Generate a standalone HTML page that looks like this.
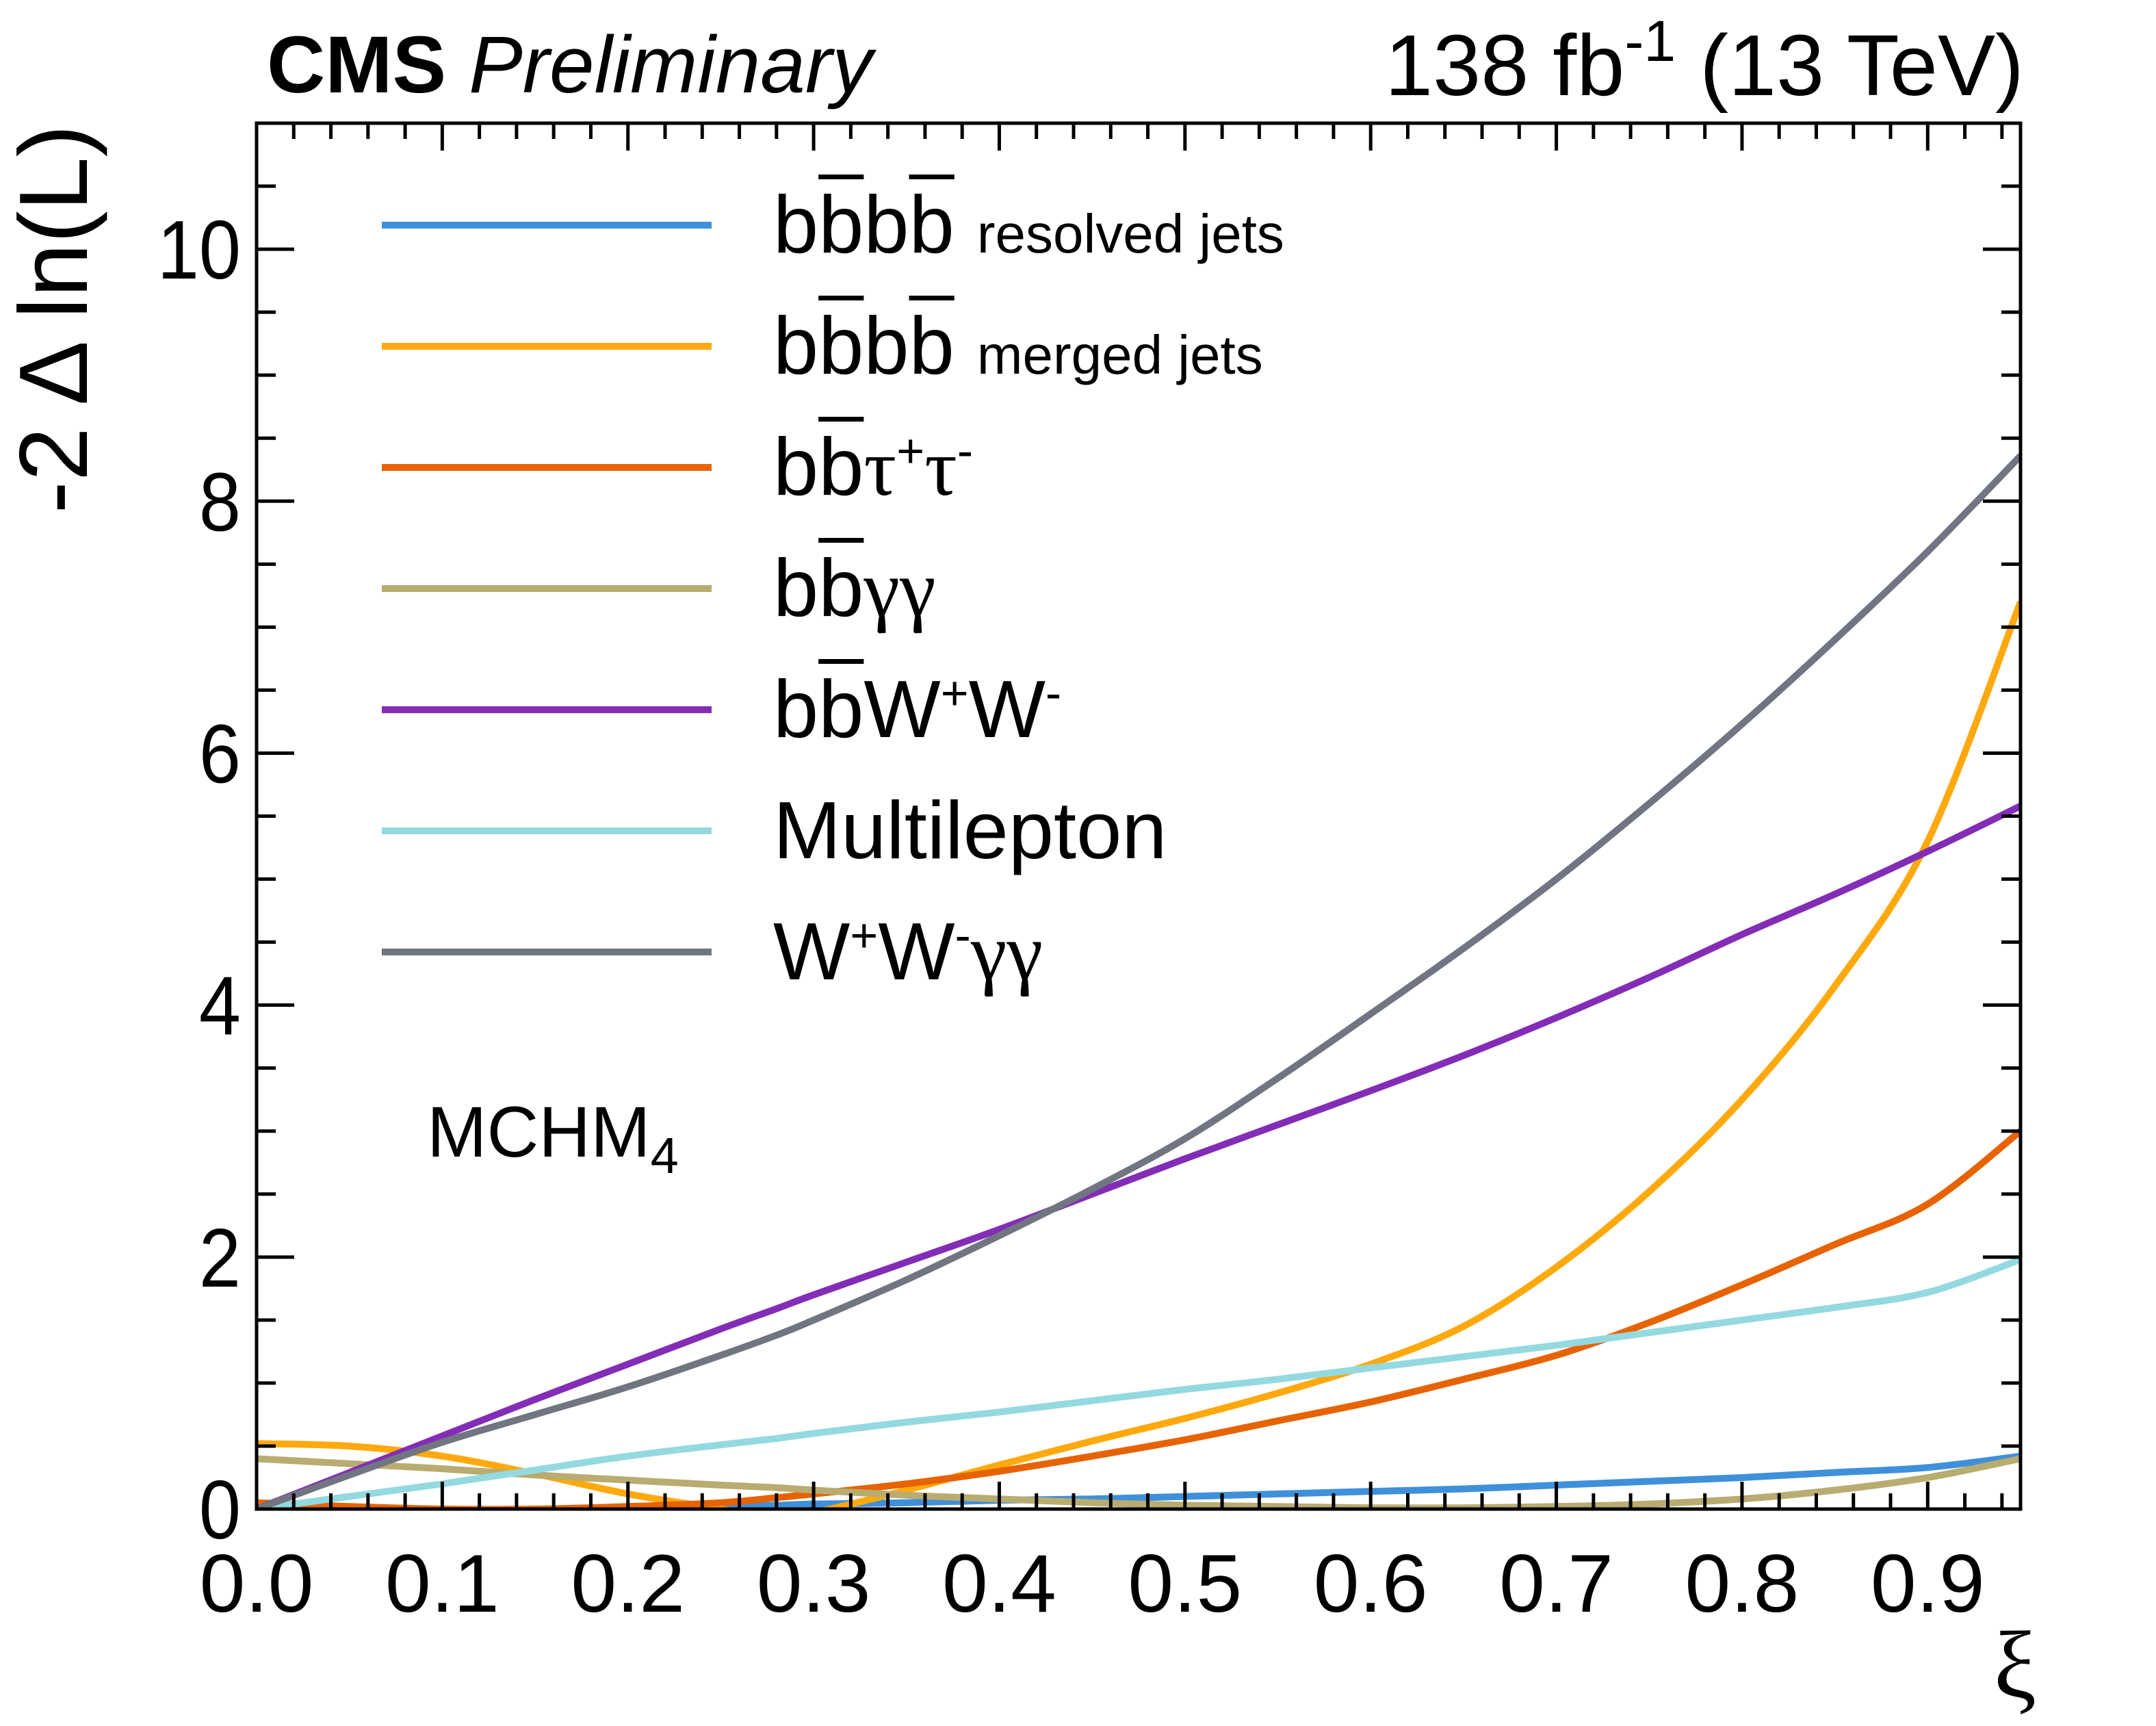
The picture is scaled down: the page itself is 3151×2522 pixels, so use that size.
<!DOCTYPE html>
<html><head><meta charset="utf-8"><style>
html,body{margin:0;padding:0;background:#fff}
body{width:3151px;height:2522px;position:relative;overflow:hidden;font-family:"Liberation Sans",sans-serif}
.lt{position:absolute;font-size:119px;color:#000;white-space:nowrap;line-height:1}
.ob{text-decoration:overline;text-decoration-thickness:7px}
.sm{font-size:80px}
</style></head><body>
<svg id="chart" width="3151" height="2522" style="position:absolute;left:0;top:0" xmlns="http://www.w3.org/2000/svg">
<defs><clipPath id="pc"><rect x="375" y="180" width="2578" height="2025"/></clipPath></defs>
<g id="curves" clip-path="url(#pc)"></g>
<g id="axes"></g>
<text x="390" y="135" font-size="118" font-weight="bold" font-family="Liberation Sans, sans-serif">CMS <tspan font-weight="normal" font-style="italic">Preliminary</tspan></text>
<text x="2958" y="139" font-size="126" text-anchor="end" font-family="Liberation Sans, sans-serif">138 fb<tspan dy="-50" font-size="84">-1</tspan><tspan dy="50"> (13 TeV)</tspan></text>
<text transform="translate(127,182) rotate(-90)" text-anchor="end" font-size="142" font-family="Liberation Sans, sans-serif">-2 Δ ln(L)</text>
<text x="2945" y="2480" text-anchor="middle" font-size="140" font-family="Liberation Serif, serif">ξ</text>
<text x="624" y="1690" font-size="105" font-family="Liberation Sans, sans-serif">MCHM<tspan dy="24" font-size="74">4</tspan></text>
</svg>
<div id="legend"></div>
<script>
const xiVals=[0,0.05,0.1,0.15,0.2,0.25,0.28,0.3,0.35,0.4,0.45,0.5,0.55,0.6,0.65,0.7,0.75,0.8,0.85,0.9,0.95];
const resolved=[-0.02,-0.02,-0.01,-0.01,0.0,0.02,0.03,0.04,0.05,0.07,0.08,0.1,0.12,0.14,0.16,0.19,0.22,0.25,0.29,0.33,0.42];
const merged=[0.52,0.5,0.42,0.28,0.12,0.0,-0.08,-0.03,0.15,0.35,0.54,0.72,0.92,1.15,1.45,1.92,2.52,3.25,4.15,5.3,7.2];
const tautau=[0.05,0.02,0.0,0.0,0.02,0.05,0.09,0.12,0.2,0.3,0.42,0.55,0.7,0.85,1.03,1.22,1.48,1.78,2.1,2.42,3.0];
const gamgam=[0.4,0.36,0.32,0.27,0.23,0.19,0.17,0.15,0.11,0.08,0.05,0.03,0.02,0.01,0.01,0.02,0.04,0.08,0.15,0.25,0.4];
const wwbb=[0.0,0.29,0.58,0.87,1.15,1.43,1.59,1.7,1.96,2.22,2.5,2.78,3.05,3.32,3.6,3.9,4.22,4.56,4.88,5.22,5.58];
const multilep=[0.0,0.1,0.2,0.31,0.42,0.51,0.56,0.6,0.69,0.77,0.86,0.95,1.03,1.12,1.21,1.3,1.4,1.5,1.6,1.72,1.98];
const wwgg=[0.0,0.27,0.53,0.75,0.97,1.22,1.38,1.5,1.82,2.17,2.54,2.94,3.42,3.93,4.45,5.0,5.6,6.23,6.9,7.6,8.36];
const seriesNames=["resolved","merged","tautau","gamgam","wwbb","multilep","wwgg"];
const seriesColors=["#3f90da","#ffa90e","#e76300","#b9ac70","#832db6","#94d9e0","#717581"];
const xTickLabels=["0.0","0.1","0.2","0.3","0.4","0.5","0.6","0.7","0.8","0.9"];
const yTickLabels=["0","2","4","6","8","10"];
const allSeries=[resolved,merged,tautau,gamgam,wwbb,multilep,wwgg];
const X0=375,X1=2953,Y0=2205,Y1=180,XMAX=0.95,YMAX=11;
const sx=v=>X0+(X1-X0)*v/XMAX, sy=v=>Y0-(Y0-Y1)*v/YMAX;
const NS="http://www.w3.org/2000/svg";
const cg=document.getElementById('curves'), ag=document.getElementById('axes');
function mk(t,a,p){const e=document.createElementNS(NS,t);for(const k in a)e.setAttribute(k,a[k]);p.appendChild(e);return e;}
function smoothPath(pts){
  let d='M'+pts[0][0].toFixed(1)+','+pts[0][1].toFixed(1);
  for(let i=0;i<pts.length-1;i++){
    const p0=pts[Math.max(0,i-1)],p1=pts[i],p2=pts[i+1],p3=pts[Math.min(pts.length-1,i+2)];
    const c1=[p1[0]+(p2[0]-p0[0])/6,p1[1]+(p2[1]-p0[1])/6];
    const c2=[p2[0]-(p3[0]-p1[0])/6,p2[1]-(p3[1]-p1[1])/6];
    d+=' C'+c1[0].toFixed(1)+','+c1[1].toFixed(1)+' '+c2[0].toFixed(1)+','+c2[1].toFixed(1)+' '+p2[0].toFixed(1)+','+p2[1].toFixed(1);
  }
  return d;
}
allSeries.forEach((s,i)=>{
  const pts=s.map((v,j)=>[sx(xiVals[j]),sy(v)]);
  const p=mk('path',{d:smoothPath(pts),fill:'none',stroke:seriesColors[i],'stroke-width':10,'stroke-linejoin':'round'},cg);
  
  
});
const fr=mk('rect',{x:X0,y:Y1,width:X1-X0,height:Y0-Y1,fill:'none',stroke:'#000','stroke-width':5},ag);


for(let k=0;k*0.02<=XMAX+1e-9;k++){
  const v=k*0.02, major=(k%5===0), L=major?40:23, x=sx(v);
  mk('line',{x1:x,x2:x,y1:Y0,y2:Y0-L,stroke:'#000','stroke-width':5},ag);
  mk('line',{x1:x,x2:x,y1:Y1,y2:Y1+L,stroke:'#000','stroke-width':5},ag);
}
xTickLabels.forEach((t,i)=>{
  const e=mk('text',{x:sx(i*0.1),y:2355,'text-anchor':'middle','font-size':120,'font-family':'Liberation Sans, sans-serif'},ag);
  e.textContent=t;
  
  
});
for(let k=0;k*0.5<=YMAX+1e-9;k++){
  const v=k*0.5, major=(k%4===0), L=major?55:28, y=sy(v);
  mk('line',{x1:X0,x2:X0+L,y1:y,y2:y,stroke:'#000','stroke-width':5},ag);
  mk('line',{x1:X1,x2:X1-L,y1:y,y2:y,stroke:'#000','stroke-width':5},ag);
}
yTickLabels.forEach((t,i)=>{
  const e=mk('text',{transform:'translate(352,'+(sy(i*2)+43)+') scale(0.9,1)','text-anchor':'end','font-size':122,'font-family':'Liberation Sans, sans-serif'},ag);
  e.textContent=t;
  
  
});
const legHTML=[
 'b<span class="ob">b</span>b<span class="ob">b</span> <span class="sm">resolved jets</span>',
 'b<span class="ob">b</span>b<span class="ob">b</span> <span class="sm">merged jets</span>',
 'b<span class="ob">b</span><span style="font-family:Liberation Serif,serif">τ</span><sup style="font-size:70px">+</sup><span style="font-family:Liberation Serif,serif">τ</span><sup style="font-size:70px">-</sup>',
 'b<span class="ob">b</span><span style="font-family:Liberation Serif,serif">γγ</span>',
 'b<span class="ob">b</span>W<sup style="font-size:70px">+</sup>W<sup style="font-size:70px">-</sup>',
 'Multilepton',
 'W<sup style="font-size:70px">+</sup>W<sup style="font-size:70px">-</sup><span style="font-family:Liberation Serif,serif">γγ</span>'
];
const leg=document.getElementById('legend');
legHTML.forEach((h,i)=>{
  const y=329+177*i;
  const ln=mk('line',{x1:558,x2:1040,y1:y,y2:y,stroke:seriesColors[i],'stroke-width':10},document.getElementById('chart'));
  
  
  const d=document.createElement('div');
  d.className='lt';
  d.style.left='1130px';
  d.style.top=(y+36-96)+'px';
  d.innerHTML=h;
  
  
  leg.appendChild(d);
});
</script>
</body></html>
